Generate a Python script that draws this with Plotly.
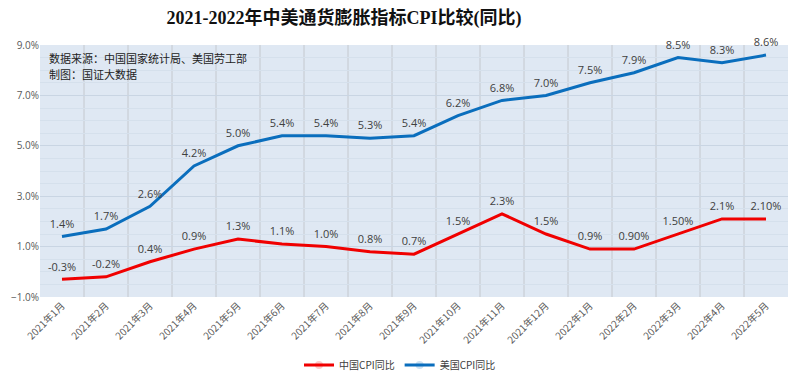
import plotly.graph_objects as go

months = ["2021年1月", "2021年2月", "2021年3月", "2021年4月", "2021年5月", "2021年6月",
          "2021年7月", "2021年8月", "2021年9月", "2021年10月", "2021年11月", "2021年12月",
          "2022年1月", "2022年2月", "2022年3月", "2022年4月", "2022年5月"]
china_cpi = [-0.3, -0.2, 0.4, 0.9, 1.3, 1.1, 1.0, 0.8, 0.7, 1.5, 2.3, 1.5, 0.9, 0.9, 1.5, 2.1, 2.1]
china_labels = ["-0.3%", "-0.2%", "0.4%", "0.9%", "1.3%", "1.1%", "1.0%", "0.8%", "0.7%",
                "1.5%", "2.3%", "1.5%", "0.9%", "0.90%", "1.50%", "2.1%", "2.10%"]
us_cpi = [1.4, 1.7, 2.6, 4.2, 5.0, 5.4, 5.4, 5.3, 5.4, 6.2, 6.8, 7.0, 7.5, 7.9, 8.5, 8.3, 8.6]
us_labels = ["1.4%", "1.7%", "2.6%", "4.2%", "5.0%", "5.4%", "5.4%", "5.3%", "5.4%",
             "6.2%", "6.8%", "7.0%", "7.5%", "7.9%", "8.5%", "8.3%", "8.6%"]

label_font = dict(family="Open Sans, Noto Sans CJK SC", size=11, color="#404040")

fig = go.Figure()
fig.add_trace(go.Scatter(
    x=months, y=china_cpi, name="中国CPI同比", mode="lines+markers+text",
    line=dict(color="#f00000", width=3), marker=dict(size=8, opacity=0),
    text=china_labels, textposition="top center", textfont=label_font,
    cliponaxis=False,
))
fig.add_trace(go.Scatter(
    x=months, y=us_cpi, name="美国CPI同比", mode="lines+markers+text",
    line=dict(color="#0a6ebd", width=3), marker=dict(size=8, opacity=0),
    text=us_labels, textposition="top center", textfont=label_font,
    cliponaxis=False,
))

# the page adds an 8px body margin, so the figure is laid out 8px up/left
fig.update_layout(
    width=800, height=384,
    margin=dict(l=32, r=20, t=37, b=95),
    paper_bgcolor="white",
    plot_bgcolor="#dfe8f3",
    title=dict(
        text="<b>2021-2022年中美通货膨胀指标CPI比较(同比)</b>",
        x=0.42, xanchor="center", y=0.974, yanchor="middle",
        font=dict(family="Liberation Serif, Noto Sans CJK SC", size=18, color="#111111"),
    ),
    showlegend=True,
    legend=dict(
        orientation="h", x=0.49, xanchor="center", xref="container",
        y=0.07, yanchor="middle", yref="container",
        font=dict(family="Noto Sans CJK SC", size=10, color="#404040"),
        itemwidth=30,
    ),
    xaxis=dict(
        type="category", tickangle=-45, automargin=False, range=[-0.5, 16.5],
        tickfont=dict(family="Noto Sans CJK SC", size=10, color="#595959"),
        showgrid=False, showline=False, zeroline=False, ticks="",
    ),
    yaxis=dict(
        range=[-1, 9], tick0=-1, dtick=2, automargin=False,
        tickformat=".1f", ticksuffix="%",
        tickfont=dict(family="Open Sans", size=10, color="#595959"),
        showgrid=True, gridcolor="#c9d5e3", gridwidth=1,
        minor=dict(dtick=0.5, showgrid=True, gridcolor="#d5e0ec", gridwidth=1),
        zeroline=False, showline=False, ticks="",
    ),
    annotations=[
        dict(text="数据来源：中国国家统计局、美国劳工部",
             xref="paper", yref="paper", x=0.009, y=0.947, xanchor="left", yanchor="middle",
             showarrow=False, font=dict(family="Noto Sans CJK SC", size=11, color="#222222")),
        dict(text="制图：国证大数据",
             xref="paper", yref="paper", x=0.009, y=0.884, xanchor="left", yanchor="middle",
             showarrow=False, font=dict(family="Noto Sans CJK SC", size=11, color="#222222")),
    ],
)

# vertical separators between categories
shapes = []
for i in range(1, len(months)):
    shapes.append(dict(type="line", xref="x", yref="paper", x0=i - 0.5, x1=i - 0.5,
                       y0=0, y1=1, line=dict(color="#c4c8ce", width=1), layer="below"))
fig.update_layout(shapes=shapes)

fig.write_html("out.html")
